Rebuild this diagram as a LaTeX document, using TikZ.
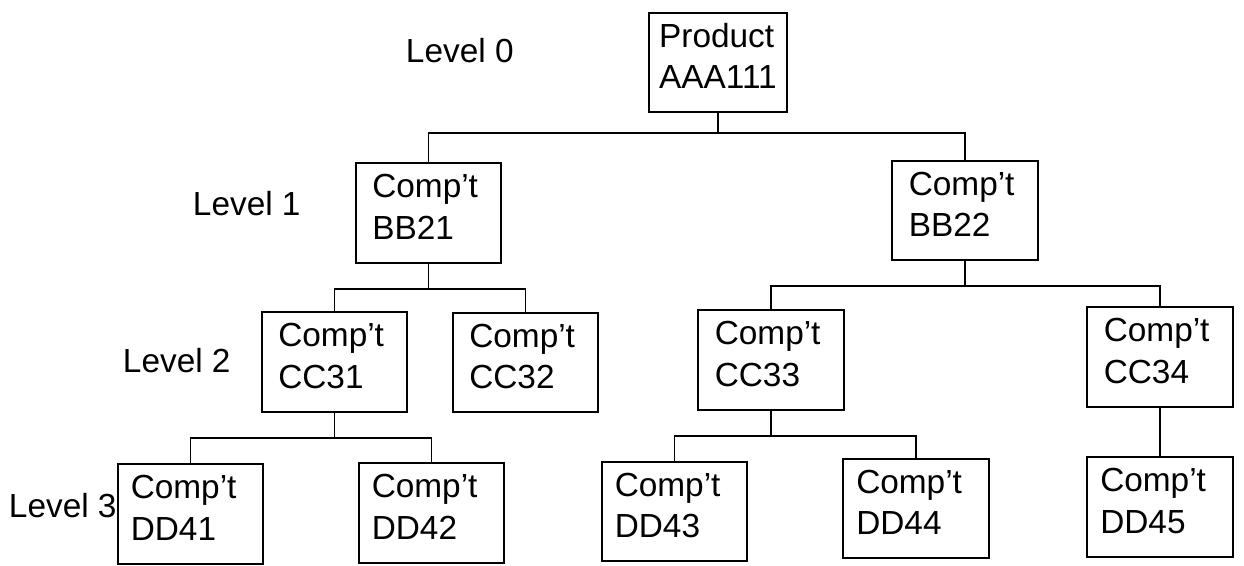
\documentclass[tikz,border=0pt]{standalone}
\usepackage{fontspec}
\setmainfont{Liberation Sans}

\tikzset{
  part/.style={draw, align=left, inner ysep=0pt, minimum width=82.8pt,
    text width=#1, text height=19.8pt, text depth=36.9pt},
  part/.default=64pt,
  level/.style={anchor=base west, inner sep=0pt},
}

\begin{document}
\begin{tikzpicture}[x=0.02cm, y=-0.02cm, line width=1.1pt,
  font=\fontsize{19}{23.4}\selectfont]
\useasboundingbox (0,0) rectangle (1244,565);

% Level labels
\node[level] (lvl0) at (405,62) {Level 0};
\node[level] (lvl1) at (192,215) {Level 1};
\node[level] (lvl2) at (122,372) {Level 2};
\node[level] (lvl3) at (8,517) {Level 3};

% Level 0
\node[part=67pt, minimum width=78.2pt, inner xsep=4pt] (aaa111) at (718,62.5) {Product\\AAA111};

% Level 1
\node[part] (bb21) at (428.5,213) {Comp't\\BB21};
\node[part] (bb22) at (965,210.5) {Comp't\\BB22};

% Level 2
\node[part] (cc31) at (334.5,362) {Comp't\\CC31};
\node[part] (cc32) at (525.5,362.5) {Comp't\\CC32};
\node[part] (cc33) at (771,360) {Comp't\\CC33};
\node[part] (cc34) at (1160,357) {Comp't\\CC34};

% Level 3
\node[part=68pt] (dd41) at (190.5,514) {Comp't\\DD41};
\node[part=68pt] (dd42) at (431.5,513) {Comp't\\DD42};
\node[part=68pt] (dd43) at (674.5,511.5) {Comp't\\DD43};
\node[part=68pt] (dd44) at (916,508.5) {Comp't\\DD44};
\node[part=68pt] (dd45) at (1160,507) {Comp't\\DD45};

% Tree lines
\draw (aaa111.south) -- ++(0,20) -| (bb21.north);
\draw (aaa111.south) -- ++(0,20) -| (bb22.north);
\draw (bb21.south) -- ++(0,25) -| (cc31.north);
\draw (bb21.south) -- ++(0,25) -| (cc32.north);
\draw (bb22.south) -- ++(0,25) -| (cc33.north);
\draw (bb22.south) -- ++(0,25) -| (cc34.north);
\draw (cc31.south) -- ++(0,25) -| (dd41.north);
\draw (cc31.south) -- ++(0,25) -| (dd42.north);
\draw (cc33.south) -- ++(0,25) -| (dd43.north);
\draw (cc33.south) -- ++(0,25) -| (dd44.north);
\draw (cc34.south) -- (dd45.north);

\end{tikzpicture}
\end{document}
